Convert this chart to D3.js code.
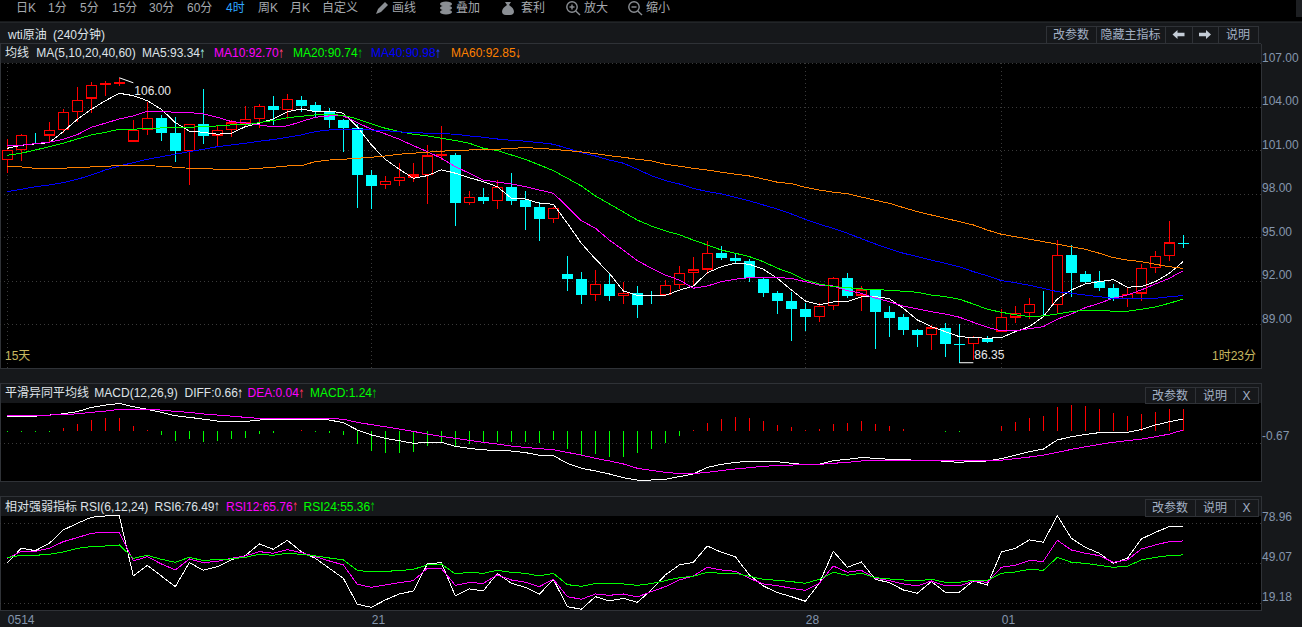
<!DOCTYPE html>
<html lang="zh">
<head>
<meta charset="utf-8">
<title>wti原油 (240分钟)</title>
<script src="https://cdn.jsdelivr.net/npm/d3@7/dist/d3.min.js"></script>
<style>
html,body{margin:0;padding:0;background:#000;overflow:hidden}
svg{display:block}
text{font-family:"Liberation Sans","Noto Sans CJK SC",sans-serif;font-size:12px}
</style>
</head>
<body>
<svg id="chart" width="1302" height="627"></svg>
<script>
// 240-minute WTI crude candles
const opens = [100.35,101.07,102.06,102.04,102.42,103.69,104.59,105.53,105.66,101.65,102.45,103.21,102.17,101.00,102.79,102.05,102.45,102.87,103.18,104.06,103.80,104.47,104.09,103.71,103.09,102.52,99.30,98.63,98.91,99.16,99.32,100.68,100.68,97.39,97.76,97.53,98.47,97.57,97.07,96.31,92.47,92.10,91.07,91.78,91.00,91.14,91.02,91.04,91.76,92.56,92.80,93.92,93.58,93.35,92.11,91.14,90.61,90.03,89.55,90.31,92.17,91.02,91.36,89.85,89.50,88.61,88.31,88.73,87.62,87.69,88.08,88.54,89.52,89.83,90.34,90.38,93.76,92.47,91.97,91.50,90.77,91.16,92.93,93.76,94.60];
const highs = [101.78,102.10,102.18,102.97,103.87,105.35,105.69,105.78,106.00,103.09,104.36,103.44,103.28,102.82,105.23,102.75,103.09,104.06,104.20,104.75,104.88,104.75,104.33,103.92,103.16,102.82,99.64,99.23,100.11,100.13,101.37,102.68,100.79,98.20,98.38,98.95,99.41,98.20,97.42,97.09,93.71,92.59,92.74,92.56,91.92,91.64,91.30,92.05,93.02,93.64,94.75,94.40,93.90,93.49,92.17,91.30,91.23,90.45,90.45,92.29,92.54,91.64,91.45,90.26,89.71,88.68,88.95,89.07,89.00,88.20,88.20,90.08,90.26,90.81,91.30,94.81,94.47,92.68,92.68,91.78,91.55,93.16,94.06,96.12,95.16];
const lows = [99.46,100.28,101.44,101.60,102.17,102.97,103.55,104.75,105.46,101.58,102.06,101.66,100.22,98.61,101.44,101.25,101.94,102.59,102.52,102.75,103.14,103.64,103.23,102.56,100.90,97.05,96.97,98.35,98.54,98.83,97.30,100.33,95.78,97.23,97.30,96.95,97.23,95.50,94.74,96.01,91.30,90.42,90.61,90.63,90.42,89.46,90.42,91.00,91.41,91.64,92.45,93.43,93.21,91.94,90.89,89.73,87.87,88.56,89.18,89.98,90.84,89.92,87.32,88.15,88.26,87.45,87.23,86.77,86.35,86.54,87.73,88.49,89.07,89.35,89.59,89.71,90.90,91.78,91.30,90.63,90.22,90.63,92.56,93.37,94.29];
const closes = [100.98,102.03,102.05,102.38,103.62,104.42,105.48,105.62,105.67,102.38,103.18,102.21,100.97,102.77,102.01,102.38,102.87,103.11,104.01,103.80,104.49,104.08,103.73,103.11,102.56,99.32,98.54,98.86,99.11,99.28,100.59,100.69,97.39,97.73,97.50,98.45,97.53,97.11,96.28,97.00,92.13,91.04,91.76,90.97,91.14,90.35,91.01,91.69,92.52,92.73,93.90,93.60,93.37,92.20,91.18,90.63,90.08,89.53,90.24,92.15,90.95,91.35,89.87,89.46,88.63,88.26,88.73,87.66,87.61,88.08,87.80,89.48,89.73,90.38,90.33,93.76,92.56,91.94,91.53,90.76,91.07,92.84,93.66,94.59,94.59];

// Moving averages
const ma5 = [101.14,101.35,101.44,101.53,102.29,103.14,103.83,104.42,104.93,104.77,104.42,103.83,102.91,102.33,102.24,102.11,102.18,102.63,102.87,103.16,103.66,103.85,103.66,103.71,103.56,102.63,101.37,100.38,99.69,99.07,99.25,99.66,99.42,99.11,98.84,98.49,97.69,97.64,97.35,97.28,95.97,94.59,93.51,92.52,91.30,91.00,91.00,91.00,91.35,91.64,92.56,92.97,93.21,93.14,92.80,92.17,91.37,90.61,90.35,90.54,90.56,90.89,90.91,90.77,90.11,89.30,88.84,88.49,88.15,88.08,88.04,88.08,88.49,88.84,89.53,90.75,91.37,91.78,91.94,92.08,91.56,91.60,91.94,92.52,93.34];
const ma10 = [101.32,101.35,101.46,101.56,101.76,102.08,102.59,102.87,103.16,103.37,103.69,103.69,103.62,103.60,103.51,103.28,102.98,102.89,102.75,102.61,102.68,102.98,103.28,103.37,103.37,102.91,102.45,102.13,101.76,101.32,100.91,100.45,99.87,99.42,98.95,98.80,98.68,98.49,98.26,98.04,97.11,96.15,95.63,94.81,94.12,93.39,92.87,92.40,92.05,91.49,91.64,91.94,92.11,92.22,92.22,92.22,92.17,91.94,91.71,91.64,91.32,91.14,90.80,90.56,90.25,90.06,89.87,89.71,89.49,89.14,88.80,88.54,88.54,88.70,88.84,89.35,89.71,90.15,90.45,90.80,91.02,91.37,91.78,92.17,92.70];
const ma20 = [100.66,100.80,101.02,101.25,101.49,101.78,102.06,102.24,102.45,102.45,102.52,102.54,102.54,102.59,102.63,102.68,102.75,102.75,102.91,103.05,103.25,103.35,103.44,103.46,103.42,103.16,102.82,102.52,102.29,102.11,101.99,101.83,101.67,101.49,101.14,100.98,100.68,100.38,99.99,99.60,99.07,98.54,97.85,97.30,96.75,96.19,95.78,95.44,95.18,94.81,94.47,94.12,93.90,93.67,93.32,92.87,92.52,92.05,91.78,91.60,91.53,91.44,91.39,91.35,91.28,91.21,91.02,90.91,90.73,90.40,90.04,89.83,89.66,89.53,89.58,89.71,89.87,89.98,89.98,89.90,89.90,90.04,90.20,90.45,90.74];
const ma40 = [98.15,98.31,98.49,98.61,98.77,99.00,99.30,99.64,99.92,100.15,100.38,100.56,100.73,100.91,101.07,101.25,101.37,101.49,101.63,101.74,101.90,102.06,102.29,102.40,102.45,102.45,102.40,102.36,102.27,102.22,102.18,102.15,102.11,101.99,101.90,101.78,101.69,101.63,101.53,101.42,101.14,100.84,100.61,100.33,100.11,99.69,99.25,98.91,98.68,98.38,98.15,97.99,97.76,97.51,97.23,96.95,96.61,96.24,95.90,95.62,95.28,94.91,94.54,94.20,93.90,93.67,93.43,93.21,92.97,92.63,92.35,92.01,91.87,91.69,91.48,91.25,91.14,91.02,90.90,90.79,90.77,90.77,90.79,90.90,90.98];
const ma60 = [99.90,99.85,99.76,99.76,99.76,99.83,99.85,99.90,99.94,99.94,99.94,99.90,99.83,99.76,99.76,99.69,99.69,99.69,99.76,99.83,99.92,99.94,100.22,100.33,100.38,100.45,100.52,100.61,100.73,100.80,100.87,100.94,100.98,101.02,101.07,101.07,101.14,101.18,101.14,101.07,100.98,100.89,100.77,100.63,100.52,100.38,100.27,100.04,99.90,99.76,99.64,99.49,99.35,99.23,99.02,98.80,98.70,98.45,98.26,98.11,98.01,97.78,97.55,97.35,97.05,96.77,96.54,96.31,96.08,95.85,95.50,95.21,95.04,94.87,94.70,94.52,94.35,94.17,93.90,93.60,93.43,93.32,93.14,92.97,92.85];

// MACD(12,26,9)
const diff = [0.82,0.82,0.82,0.88,0.95,1.07,1.31,1.44,1.53,1.35,1.20,1.03,0.84,0.75,0.65,0.54,0.52,0.52,0.60,0.64,0.65,0.65,0.65,0.60,0.45,0.04,-0.24,-0.43,-0.56,-0.71,-0.65,-0.65,-0.88,-0.99,-1.08,-1.10,-1.14,-1.23,-1.38,-1.40,-1.83,-2.11,-2.26,-2.43,-2.64,-2.77,-2.77,-2.73,-2.58,-2.43,-2.06,-1.89,-1.78,-1.72,-1.72,-1.74,-1.83,-1.91,-1.89,-1.68,-1.61,-1.51,-1.55,-1.61,-1.63,-1.66,-1.66,-1.72,-1.78,-1.72,-1.70,-1.57,-1.37,-1.18,-1.03,-0.52,-0.34,-0.21,-0.11,-0.09,-0.09,0.07,0.32,0.50,0.66];
const dea = [0.88,0.88,0.88,0.88,0.90,0.95,1.03,1.10,1.20,1.20,1.20,1.16,1.08,1.03,0.94,0.88,0.82,0.75,0.69,0.69,0.69,0.69,0.69,0.69,0.64,0.47,0.34,0.22,0.09,-0.04,-0.19,-0.32,-0.43,-0.54,-0.65,-0.75,-0.86,-0.94,-1.01,-1.07,-1.22,-1.37,-1.55,-1.70,-1.87,-2.11,-2.23,-2.34,-2.41,-2.41,-2.34,-2.24,-2.15,-2.08,-2.00,-1.96,-1.93,-1.91,-1.89,-1.83,-1.78,-1.70,-1.66,-1.66,-1.66,-1.66,-1.66,-1.66,-1.66,-1.68,-1.70,-1.66,-1.57,-1.48,-1.37,-1.22,-1.05,-0.90,-0.77,-0.65,-0.56,-0.47,-0.34,-0.19,0.04];
const macdBars = [-0.09,-0.06,-0.05,-0.05,0.13,0.37,0.60,0.73,0.73,0.26,0.04,-0.24,-0.58,-0.49,-0.62,-0.56,-0.49,-0.39,-0.19,-0.11,-0.04,0.03,-0.07,-0.11,-0.24,-0.73,-1.14,-1.25,-1.25,-1.22,-0.86,-0.71,-0.84,-0.73,-0.71,-0.64,-0.64,-0.62,-0.67,-0.52,-1.05,-1.37,-1.29,-1.46,-1.46,-1.23,-1.01,-0.69,-0.28,0.04,0.41,0.64,0.75,0.71,0.54,0.32,0.21,0.04,0.09,0.37,0.43,0.54,0.37,0.26,0.09,-0.03,-0.04,-0.09,-0.09,-0.04,-0.04,0.26,0.49,0.73,0.84,1.33,1.44,1.38,1.22,0.99,0.82,0.95,1.05,1.22,1.24];

// RSI(6,12,24)
const rsi6 = [49.57,60.28,58.53,64.01,73.98,78.96,83.44,84.44,84.44,39.60,47.57,39.60,31.63,49.57,43.84,46.58,51.56,54.80,63.52,59.53,66.26,57.79,52.80,45.33,37.86,18.43,16.19,21.67,26.15,28.39,48.57,49.57,24.66,29.89,28.39,41.60,34.12,31.13,25.90,37.11,16.69,14.69,24.16,20.92,22.91,19.92,29.14,40.35,47.82,49.82,62.02,57.29,54.05,40.35,32.13,27.15,24.16,20.67,34.12,58.04,46.08,50.06,37.11,34.62,29.14,26.65,35.37,27.40,27.40,35.87,32.88,57.54,60.28,66.50,64.76,84.69,67.75,61.02,56.54,49.07,52.80,67.25,72.23,76.49,76.49];
const rsi12 = [52.80,58.04,58.04,60.28,65.26,68.25,71.49,72.23,72.23,50.81,54.05,48.57,44.09,52.30,49.57,50.56,52.80,54.55,57.79,56.54,59.28,57.04,54.05,50.81,47.82,33.37,31.13,32.88,34.62,36.12,45.33,45.33,32.63,34.62,34.12,40.35,36.61,34.87,31.63,37.11,24.16,22.16,26.15,25.15,26.15,23.91,27.90,31.63,36.61,39.60,46.08,44.09,43.09,37.86,33.62,32.38,30.38,28.89,34.12,47.07,42.34,43.84,37.86,36.12,33.62,32.13,35.87,32.13,32.13,35.87,34.87,46.08,47.57,51.06,50.56,66.26,59.03,56.54,54.80,49.82,51.56,59.78,62.77,65.26,65.76];
const rsi24 = [53.30,55.05,55.05,55.79,57.54,60.28,61.52,62.02,62.77,52.80,55.05,52.06,49.82,53.55,51.06,52.06,52.30,53.55,55.79,55.05,56.54,55.79,54.55,53.05,51.56,43.84,42.59,43.09,43.59,44.58,47.82,48.57,41.10,42.34,41.60,43.84,42.34,41.60,39.60,41.60,33.13,31.88,33.87,33.62,33.62,32.63,33.87,36.12,38.36,39.35,42.34,41.60,41.60,39.35,37.11,36.37,35.37,34.12,37.11,42.34,40.10,41.60,38.36,37.36,36.61,35.87,37.11,34.87,34.87,36.37,36.37,41.60,42.59,44.58,43.84,53.55,49.82,49.07,47.57,46.08,46.83,51.56,53.55,54.80,55.36];

// Axis ticks and captions
const priceTicks = [107,104,101,98,95,92,89];
const macdTicks = [-0.67];
const rsiTicks = [78.96,49.07,19.18];
const dateIndex = [0,26,57,71];
const dateLabels = ["0514","21","28","01"];
const highLabel = {index:8, value:106.00};
const lowLabel = {index:68, value:86.35};

const periodLabels = ["日K","1分","5分","15分","30分","60分","4时","周K","月K","自定义"];
const toolLabels = ["画线","叠加","套利","放大","缩小"];

const C = {
  panel:"#16181b", border:"#2f3237", grid:"#3a3a3a", axis:"#8596ad", button:"#a3b0c4",
  white:"#ffffff", magenta:"#ff00ff", green:"#00ff00", blue:"#0000ff", orange:"#ff8000",
  red:"#ff0000", cyan:"#00ffff", yellow:"#c8b860", text:"#dfe3e8"
};

const svg = d3.select("#chart");

// Frame
svg.append("rect").attr("width",1302).attr("height",627).attr("fill",C.panel);
svg.append("rect").attr("width",1302).attr("height",22).attr("fill","#000");
svg.append("rect").attr("x",1296).attr("width",6).attr("height",17).attr("fill","#1d1f22");
const plots = [
  {y:63,h:305},
  {y:403,h:78},
  {y:516,h:94}
];
plots.forEach(p=>svg.append("rect").attr("x",1).attr("y",p.y).attr("width",1260).attr("height",p.h).attr("fill","#000"));
[[0,22,1302,22],[0,43.5,1261,43.5],[1261.5,44,1261.5,368],[0,368.5,1262,368.5],
 [0,383.5,1262,383.5],[1261.5,383,1261.5,481],[0,481.5,1262,481.5],
 [0,496.5,1262,496.5],[1261.5,496,1261.5,610],[0,610.5,1262,610.5],
 [0.5,44,0.5,368],[0.5,384,0.5,481],[0.5,497,0.5,610]].forEach(l=>
  svg.append("line").attr("x1",l[0]).attr("y1",l[1]).attr("x2",l[2]).attr("y2",l[3]).attr("stroke",C.border));

// Scales
const x = d3.scaleLinear().domain([0,84]).range([7.33,1183.33]);
const yPrice = d3.scaleLinear().domain([89,107]).range([324.3,63.3]);
const yMacd = d3.scaleLinear().domain([-2.826,1.556]).range([481,403]);
const yRsi = d3.scaleLinear().domain([19.18,78.96]).range([603.3,523.3]);

const gridLine = sel => sel.attr("stroke",C.grid).attr("stroke-dasharray","1,3").attr("shape-rendering","crispEdges");

// Horizontal grid and right-hand price labels from the axis generator
function rightAxis(scale, ticks, labelShift){
  const g = svg.append("g").attr("transform","translate(0,0)")
    .call(d3.axisRight(scale).tickValues(ticks).tickFormat(d=>d.toFixed(2)).tickSize(1261).tickPadding(0));
  g.select(".domain").remove();
  g.selectAll("line").call(gridLine);
  g.selectAll("text").attr("fill",C.axis).attr("dy",labelShift).attr("x",1262)
    .style("font-size","12px").style("font-family",'"Liberation Sans","Noto Sans CJK SC",sans-serif');
  return g;
}
rightAxis(yPrice, priceTicks, "-2px");
rightAxis(yMacd, macdTicks, "-3px");
rightAxis(yRsi, rsiTicks, "-3px");

// Vertical grid lines and date labels
const dateAxis = svg.append("g").attr("transform","translate(0,368)")
  .call(d3.axisBottom(x).tickValues(dateIndex).tickFormat((d,i)=>dateLabels[i]).tickSize(-305).tickPadding(0));
dateAxis.select(".domain").remove();
dateAxis.selectAll("line").call(gridLine);
dateAxis.selectAll("text").attr("fill",C.axis).attr("text-anchor","start").attr("y",256).attr("dy",0)
  .style("font-size","12px").style("font-family",'"Liberation Sans","Noto Sans CJK SC",sans-serif');

// Candlesticks
const bars = d3.range(opens.length).map(i=>({i,o:opens[i],h:highs[i],l:lows[i],c:closes[i],up:closes[i]>opens[i]}));
const candles = svg.append("g").attr("shape-rendering","crispEdges");
candles.selectAll("line.wick").data(bars).join("line").attr("class","wick")
  .attr("x1",d=>x(d.i)).attr("x2",d=>x(d.i)).attr("y1",d=>yPrice(d.h)).attr("y2",d=>yPrice(d.l))
  .attr("stroke",d=>d.up?C.red:C.cyan);
candles.selectAll("rect.body").data(bars).join("rect").attr("class","body")
  .attr("x",d=>x(d.i)-(d.up?5:5.5)).attr("width",d=>d.up?10:11)
  .attr("y",d=>yPrice(Math.max(d.o,d.c))).attr("height",d=>Math.max(Math.abs(yPrice(d.o)-yPrice(d.c)),0.5))
  .attr("fill",d=>d.up?"#000":C.cyan)
  .attr("stroke",d=>d.up?C.red:"none").attr("stroke-width",1.5);

// Moving average lines, fastest first
function plotLine(values, scale, color){
  const line = d3.line().x((d,i)=>x(i)).y(d=>scale(d));
  svg.append("path").attr("d",line(values)).attr("fill","none").attr("stroke",color)
    .attr("stroke-width",1).attr("shape-rendering","crispEdges");
}
[[ma5,C.white],[ma10,C.magenta],[ma20,C.green],[ma40,C.blue],[ma60,C.orange]]
  .forEach(s=>plotLine(s[0],yPrice,s[1]));

// High and low callouts
svg.append("line").attr("x1",x(highLabel.index)).attr("y1",yPrice(highLabel.value))
  .attr("x2",x(highLabel.index+1)).attr("y2",yPrice(highLabel.value)+5).attr("stroke",C.white);
svg.append("text").attr("x",x(highLabel.index+1)+1).attr("y",yPrice(highLabel.value)+17)
  .attr("fill","#e8e8e8").text(highLabel.value.toFixed(2));
svg.append("line").attr("x1",x(lowLabel.index)).attr("y1",yPrice(lowLabel.value))
  .attr("x2",x(lowLabel.index+1)).attr("y2",yPrice(lowLabel.value)).attr("stroke",C.white);
svg.append("text").attr("x",x(lowLabel.index+1)+1).attr("y",yPrice(lowLabel.value)-4)
  .attr("fill","#e8e8e8").text(lowLabel.value.toFixed(2));

// MACD histogram and lines
svg.append("g").attr("shape-rendering","crispEdges").selectAll("line").data(macdBars).join("line")
  .attr("x1",(d,i)=>x(i)).attr("x2",(d,i)=>x(i))
  .attr("y1",yMacd(0)).attr("y2",d=>yMacd(d))
  .attr("stroke",d=>d>=0?C.red:C.green);
plotLine(diff,yMacd,C.white);
plotLine(dea,yMacd,C.magenta);

// RSI lines
plotLine(rsi6,yRsi,C.white);
plotLine(rsi12,yRsi,C.magenta);
plotLine(rsi24,yRsi,C.green);

// Caption helper: value text followed by a narrow trend arrow
function caption(xPos, yPos, label, color, arrow, arrowColor, wordGap){
  const t = svg.append("text").attr("x",xPos).attr("y",yPos).attr("fill",color).text(label);
  if(wordGap) t.attr("word-spacing",wordGap);
  if(arrow){
    const w = t.node().getComputedTextLength();
    svg.append("text").attr("transform",`translate(${xPos+w-0.5},${yPos+0.5}) scale(0.6,1.1)`)
      .attr("fill",arrowColor||color)
      .style("font-family",'"DejaVu Sans"').style("font-size","11px").text(arrow);
  }
}
const ROW1 = 57, ROW2 = 397, ROW3 = 510.5;
caption(8,38.5,"wti原油 (240分钟)",C.text,null,null,3);
caption(5,ROW1,"均线 MA(5,10,20,40,60)",C.text,null,null,4);
caption(142,ROW1,"MA5:93.34",C.text,"↑","#9fe8e8");
caption(214,ROW1,"MA10:92.70",C.magenta,"↑","#ff4080");
caption(293,ROW1,"MA20:90.74",C.green,"↑","#00b000");
caption(371,ROW1,"MA40:90.98",C.blue,"↑","#2040ff");
caption(451,ROW1,"MA60:92.85",C.orange,"↓");
caption(5,ROW2,"平滑异同平均线 MACD(12,26,9)",C.text,null,null,2);
caption(184.5,ROW2,"DIFF:0.66",C.text,"↑");
caption(247.5,ROW2,"DEA:0.04",C.magenta,"↑","#ff3060");
caption(310,ROW2,"MACD:1.24",C.green,"↑","#00c000");
caption(5,ROW3,"相对强弱指标 RSI(6,12,24)",C.text);
caption(154.5,ROW3,"RSI6:76.49",C.text,"↑");
caption(226,ROW3,"RSI12:65.76",C.magenta,"↑","#ff3060");
caption(303.5,ROW3,"RSI24:55.36",C.green,"↑","#00c000");
svg.append("text").attr("x",5).attr("y",360).attr("fill",C.yellow).text("15天");
svg.append("text").attr("x",1212).attr("y",360).attr("fill",C.yellow).text("1时23分");

// Toolbar
const periodX = [16,48,80,112,149,187,226,258,290,322];
periodLabels.forEach((s,i)=>svg.append("text").attr("x",periodX[i]).attr("y",12)
  .attr("fill",s==="4时"?"#2ea6ff":"#a5a9ae").text(s));
const toolX = [392,456,521,584,646];
toolLabels.forEach((s,i)=>svg.append("text").attr("x",toolX[i]).attr("y",12).attr("fill","#a5a9ae").text(s));

const icons = svg.append("g").attr("fill","#8b8f94").attr("stroke","none");
icons.append("path").attr("d","M376 14 L378 9 L385 2 L388 5 L381 12 Z");
[3,7,11].forEach(dy=>icons.append("ellipse").attr("cx",446).attr("cy",dy+1).attr("rx",6).attr("ry",2.6));
icons.append("path").attr("d","M505 2 L511 2 L509 5 L511.5 7 C515 10 515 15 510 15 L506 15 C501 15 501 10 504.5 7 L507 5 Z");
[[572,true],[634,false]].forEach(m=>{
  const g = svg.append("g").attr("fill","none").attr("stroke","#8b8f94").attr("stroke-width",1.4);
  g.append("circle").attr("cx",m[0]).attr("cy",7).attr("r",5.2);
  g.append("line").attr("x1",m[0]+3.8).attr("y1",11).attr("x2",m[0]+8).attr("y2",15);
  g.append("line").attr("x1",m[0]-2.5).attr("y1",7).attr("x2",m[0]+2.5).attr("y2",7);
  if(m[1]) g.append("line").attr("x1",m[0]).attr("y1",4.5).attr("x2",m[0]).attr("y2",9.5);
});

// Panel buttons
function button(x0,x1,y0,y1,label){
  svg.append("rect").attr("x",x0+0.5).attr("y",y0+0.5).attr("width",x1-x0).attr("height",y1-y0)
    .attr("fill",C.panel).attr("stroke",C.border);
  svg.append("text").attr("x",(x0+x1)/2).attr("y",(y0+y1)/2+4.5).attr("text-anchor","middle")
    .attr("fill",C.button).text(label);
}
button(1046,1096,26,43,"改参数");
button(1096,1165,26,43,"隐藏主指标");
button(1165,1192,26,43,"");
button(1192,1218,26,43,"");
button(1218,1258,26,43,"说明");
[[1178.5,-1],[1205,1]].forEach(a=>{
  const c=a[0],d=a[1];
  svg.append("path").attr("fill","#c4ccd6")
    .attr("d",`M${c+6*d} 34.5 L${c+1*d} 30 L${c+1*d} 32.7 L${c-6*d} 32.7 L${c-6*d} 36.3 L${c+1*d} 36.3 L${c+1*d} 39 Z`);
});
[[387,403],[499,516]].forEach(r=>{
  button(1145,1195,r[0],r[1],"改参数");
  button(1195,1235,r[0],r[1],"说明");
  button(1235,1258,r[0],r[1],"X");
});
</script>
</body>
</html>
